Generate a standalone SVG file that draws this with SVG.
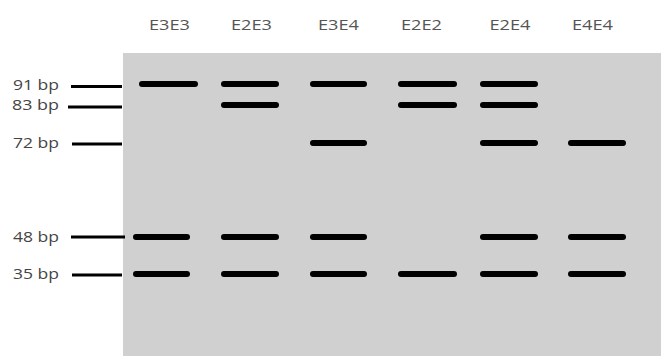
<svg xmlns="http://www.w3.org/2000/svg" width="661" height="356" viewBox="0 0 661 356">
<style>
.hdr{font-family:"Open Sans","Liberation Sans",sans-serif;font-size:15px;fill:#555;text-anchor:middle}
.lbl{font-family:"Open Sans","Liberation Sans",sans-serif;font-size:15px;fill:#444}
.band{stroke:#000;stroke-width:6;stroke-linecap:round}
.mk{stroke:#000;stroke-width:3}
</style>
<rect width="661" height="356" fill="#fff"/>
<rect id="gel" x="123" y="53" width="538" height="303" fill="#d0d0d0"/>
<g id="headers">
<text class="hdr" x="169.5" y="30" textLength="41" lengthAdjust="spacingAndGlyphs">E3E3</text>
<text class="hdr" x="251.5" y="30" textLength="41" lengthAdjust="spacingAndGlyphs">E2E3</text>
<text class="hdr" x="338.5" y="30" textLength="41" lengthAdjust="spacingAndGlyphs">E3E4</text>
<text class="hdr" x="421.5" y="30" textLength="41" lengthAdjust="spacingAndGlyphs">E2E2</text>
<text class="hdr" x="510" y="30" textLength="41" lengthAdjust="spacingAndGlyphs">E2E4</text>
<text class="hdr" x="592.5" y="30" textLength="41" lengthAdjust="spacingAndGlyphs">E4E4</text>
</g>
<g id="ladder">
<text class="lbl" x="13" y="90" textLength="46" lengthAdjust="spacingAndGlyphs">91 bp</text>
<text class="lbl" x="12" y="110" textLength="47" lengthAdjust="spacingAndGlyphs">83 bp</text>
<text class="lbl" x="13" y="148" textLength="46" lengthAdjust="spacingAndGlyphs">72 bp</text>
<text class="lbl" x="13" y="242" textLength="46" lengthAdjust="spacingAndGlyphs">48 bp</text>
<text class="lbl" x="13" y="279" textLength="46" lengthAdjust="spacingAndGlyphs">35 bp</text>
<line class="mk" x1="71" y1="86.5" x2="122" y2="86.5"/>
<line class="mk" x1="68" y1="107" x2="122" y2="107"/>
<line class="mk" x1="72" y1="144" x2="122" y2="144"/>
<line class="mk" x1="71" y1="237" x2="125" y2="237"/>
<line class="mk" x1="72" y1="275" x2="122" y2="275"/>
</g>
<g id="lane-E3E3">
<line class="band" x1="142" y1="84" x2="195" y2="84"/>
<line class="band" x1="136" y1="237" x2="187" y2="237"/>
<line class="band" x1="136" y1="274" x2="187" y2="274"/>
</g>
<g id="lane-E2E3">
<line class="band" x1="224" y1="84" x2="276" y2="84"/>
<line class="band" x1="224" y1="105" x2="276" y2="105"/>
<line class="band" x1="224" y1="237" x2="276" y2="237"/>
<line class="band" x1="224" y1="274" x2="276" y2="274"/>
</g>
<g id="lane-E3E4">
<line class="band" x1="313" y1="84" x2="364" y2="84"/>
<line class="band" x1="313" y1="143" x2="364" y2="143"/>
<line class="band" x1="313" y1="237" x2="364" y2="237"/>
<line class="band" x1="313" y1="274" x2="364" y2="274"/>
</g>
<g id="lane-E2E2">
<line class="band" x1="401" y1="84" x2="454" y2="84"/>
<line class="band" x1="401" y1="105" x2="454" y2="105"/>
<line class="band" x1="401" y1="274" x2="454" y2="274"/>
</g>
<g id="lane-E2E4">
<line class="band" x1="483" y1="84" x2="535" y2="84"/>
<line class="band" x1="483" y1="105" x2="535" y2="105"/>
<line class="band" x1="483" y1="143" x2="535" y2="143"/>
<line class="band" x1="483" y1="237" x2="535" y2="237"/>
<line class="band" x1="483" y1="274" x2="535" y2="274"/>
</g>
<g id="lane-E4E4">
<line class="band" x1="571" y1="143" x2="623" y2="143"/>
<line class="band" x1="571" y1="237" x2="623" y2="237"/>
<line class="band" x1="571" y1="274" x2="623" y2="274"/>
</g>
</svg>
